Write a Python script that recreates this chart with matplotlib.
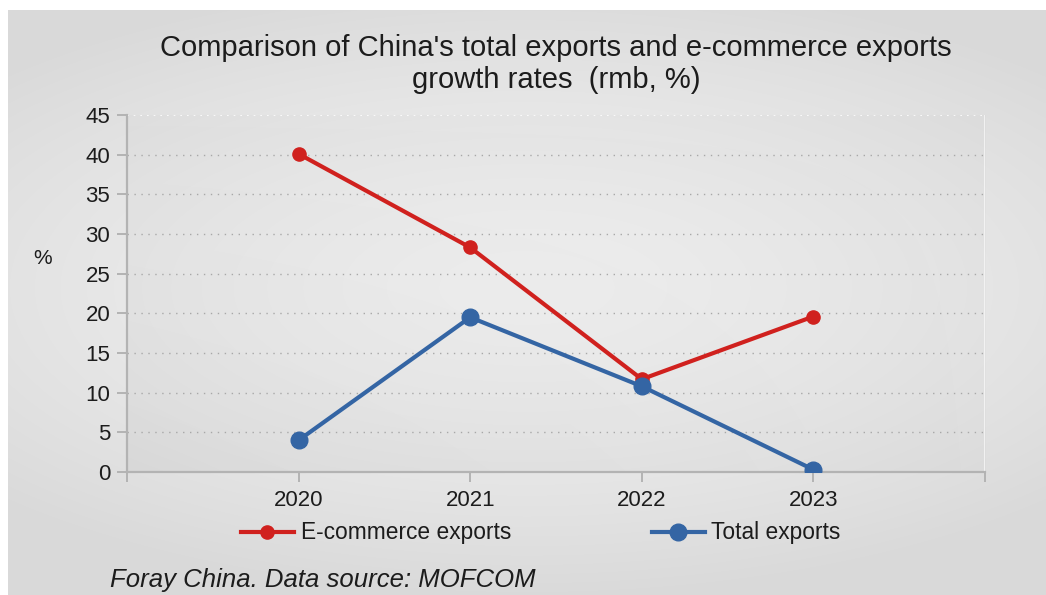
import numpy as np
import matplotlib
matplotlib.use("Agg")
import matplotlib.pyplot as plt
from matplotlib.lines import Line2D

plt.rcParams['font.family'] = ['Liberation Sans', 'DejaVu Sans']

# Data
years = ["2020", "2021", "2022", "2023"]
ecommerce_growth = [40.1, 28.3, 11.7, 19.6]
total_growth = [4.0, 19.5, 10.8, 0.3]
y_ticks = [0, 5, 10, 15, 20, 25, 30, 35, 40, 45]

title = "Comparison of China's total exports and e-commerce exports\ngrowth rates  (rmb, %)"
source = "Foray China. Data source: MOFCOM"

RED = "#d0211e"
BLUE = "#3465a4"
TEXT = "#1c1c1c"
AXIS = "#b3b3b3"

W, H = 1046, 595
fig = plt.figure(figsize=(W / 100, H / 100), dpi=100)
fig.patch.set_facecolor("white")

# Page background: soft radial gradient
bg = fig.add_axes([8 / W, 0, 1 - 8 / W, 1 - 10 / H], zorder=-10)
gx, gy = np.meshgrid(np.linspace(-1, 1, 600), np.linspace(-1, 1, 400))
r = np.sqrt((gx / 1.0) ** 2 + ((gy + 0.05) / 0.75) ** 2)
shade = 0.945 - 0.055 * np.clip(r, 0, 1.4) ** 1.5
bg.imshow(np.dstack([shade] * 3), aspect="auto", extent=[0, 1, 0, 1],
          interpolation="bicubic")
bg.axis("off")

ax = fig.add_axes([127 / W, 1 - 472 / H, (985 - 127) / W, (472 - 115) / H])
ax.set_facecolor("none")
x = np.arange(len(years))
ax.set_xlim(-1, len(years))
ax.set_ylim(0, 45)

# Plot area tint
px, py = np.meshgrid(np.linspace(0, 1, 300), np.linspace(0, 1, 200))
tint = np.zeros((200, 300, 4))
tint[..., :3] = 0.5
tint[..., 3] = 0.03 + 0.05 * (1 - px) * py
ax.imshow(tint, aspect="auto", extent=[-1, len(years), 0, 45], zorder=0,
          interpolation="bicubic")

for t in y_ticks[1:-1]:
    ax.axhline(t, color="#a8a8a8", lw=1.0, ls=(0, (1, 4)), zorder=1)
ax.axhline(45, color="white", lw=1.2, ls=(0, (1, 3)), zorder=1)
ax.axvline(len(years), color="#f6f6f6", lw=1.2, zorder=1)

ax.plot(x, ecommerce_growth, color=RED, lw=3.0, marker="o", ms=9.5,
        zorder=3, solid_capstyle="round")
ax.plot(x, total_growth, color=BLUE, lw=3.0, marker="o", ms=12,
        zorder=4, solid_capstyle="round")

for side in ("top", "right"):
    ax.spines[side].set_visible(False)
for side in ("left", "bottom"):
    ax.spines[side].set_color(AXIS)
    ax.spines[side].set_linewidth(1.6)

ax.set_yticks(y_ticks)
ax.set_yticklabels([str(v) for v in y_ticks])
ax.set_xticks(np.arange(-1, len(years) + 1))
ax.set_xticklabels([""] + years + [""])
ax.tick_params(axis="both", colors=AXIS, length=7, width=1.4,
               labelcolor=TEXT, labelsize=16)
ax.tick_params(axis="x", pad=6)
ax.tick_params(axis="y", pad=5)

fig.text(43 / W, 1 - 259 / H, "%", ha="center", va="center",
         fontsize=15, color=TEXT)

fig.text(556 / W, 1 - 64 / H, title, ha="center", va="center",
         fontsize=21, color=TEXT, linespacing=1.22)

handles = [
    Line2D([], [], color=RED, lw=3.0, marker="o", ms=9.5),
    Line2D([], [], color=BLUE, lw=3.0, marker="o", ms=12),
]
fig.legend(handles, ["E-commerce exports", "Total exports"],
           loc="center", bbox_to_anchor=(541 / W, 1 - 533 / H), ncol=2,
           frameon=False, fontsize=16.4, handlelength=2.3, handletextpad=0.3,
           columnspacing=6.2, labelcolor=TEXT)

fig.text(110 / W, 1 - 580 / H, source, ha="left", va="center",
         fontsize=18.5, style="italic", color=TEXT)

fig.savefig("out.png", dpi=100)
